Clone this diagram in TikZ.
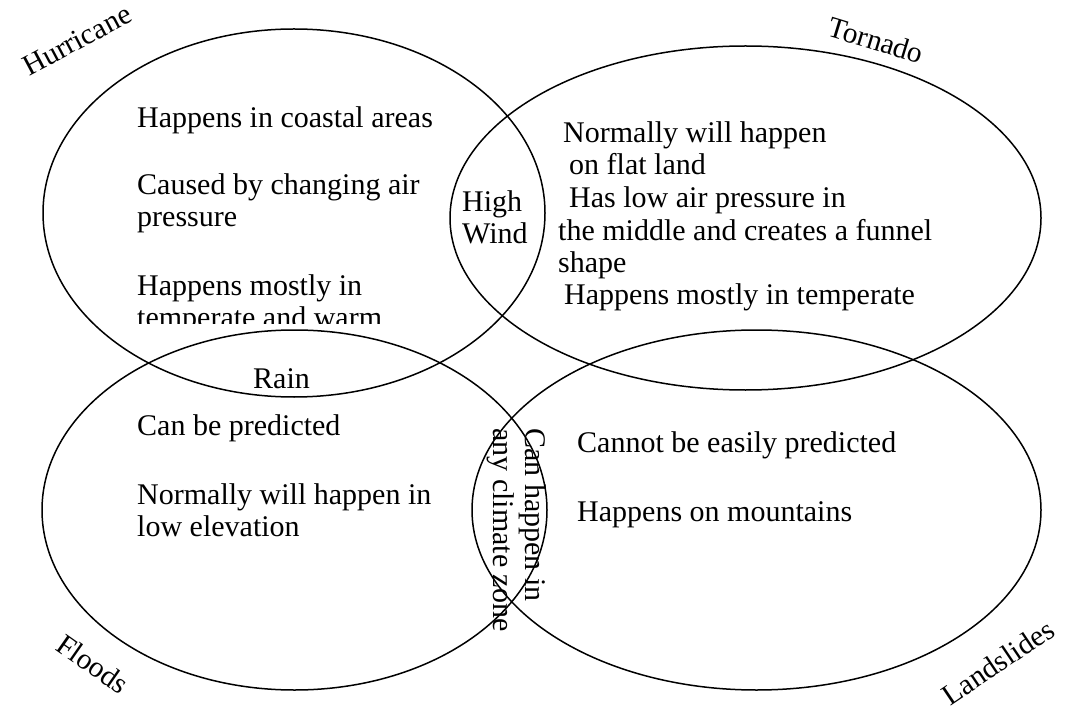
\documentclass[tikz,border=0pt]{standalone}
\usepackage{fontspec}
\setmainfont{Liberation Serif}
\usetikzlibrary{shapes.geometric}
\begin{document}
\begin{tikzpicture}[x=1pt,y=-1pt,
  venn/.style={draw, ellipse, line width=1.5pt, inner sep=0pt, outer sep=0pt},
  txt/.style={anchor=base west, inner sep=0pt, font=\fontsize{30}{33}\selectfont},
  lbl/.style={inner sep=0pt, font=\fontsize{29.5}{33}\selectfont}]
\useasboundingbox (0,0) rectangle (1076,711);
% circles
\node[venn, minimum width=502pt, minimum height=368pt] (hur) at (294,213) {};
\node[venn, minimum width=591pt, minimum height=344pt] (tor) at (745.5,218) {};
\node[venn, minimum width=505pt, minimum height=360pt] (flo) at (294.5,510) {};
\node[venn, minimum width=569pt, minimum height=360pt] (lan) at (756.5,510) {};
% labels
\node[lbl, rotate=28] (hurl) at (77,40) {Hurricane};
\node[lbl, rotate=-17] (torl) at (876,40) {Tornado};
\node[lbl, rotate=-35] (flol) at (93,664) {Floods};
\node[lbl, rotate=34] (lanl) at (998,662) {Landslides};
% Hurricane
\node[txt] (h1) at (137,128) {Happens in coastal areas};
\node[txt] (h2) at (137,195) {Caused by changing air};
\node[txt] (h3) at (137,227) {pressure};
\node[txt] (h4) at (137,295) {Happens mostly in};
\begin{scope}
\clip (0,0) rectangle (1076,323);
\node[txt] (h5) at (137,327) {temperate and warm};
\end{scope}
% High wind
\node[txt] (w1) at (462,212) {High};
\node[txt] (w2) at (462,244) {Wind};
% Tornado
\node[txt] (t1) at (563,143) {Normally will happen};
\node[txt] (t2) at (569,175) {on flat land};
\node[txt] (t3) at (569,208) {Has low air pressure in};
\node[txt] (t4) at (558,241) {the middle and creates a funnel};
\node[txt] (t5) at (558,273) {shape};
\node[txt] (t6) at (564,305) {Happens mostly in temperate};
% Rain
\node[txt] (r1) at (253,388) {Rain};
% Floods
\node[txt] (f1) at (137,435) {Can be predicted};
\node[txt] (f2) at (137,504) {Normally will happen in};
\node[txt] (f3) at (137,536) {low elevation};
% Landslides
\node[txt] (l1) at (577,452) {Cannot be easily predicted};
\node[txt] (l2) at (577,521) {Happens on mountains};
% climate zone
\node[txt, rotate=-90] (c1) at (525,428) {Can happen in};
\node[txt, rotate=-90] (c2) at (493,428) {any climate zone};
\end{tikzpicture}
\end{document}
